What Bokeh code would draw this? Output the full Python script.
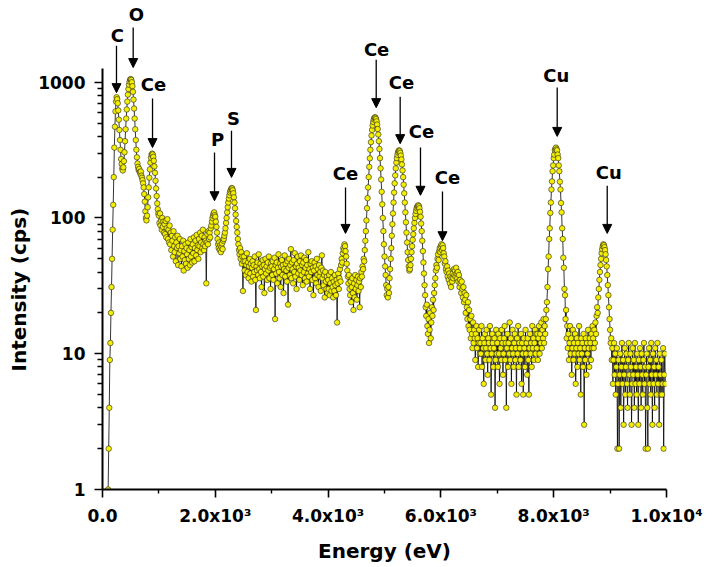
from bokeh.plotting import figure
from bokeh.models import (Range1d, FixedTicker, CustomJSTickFormatter, Arrow, NormalHead,
                          ColumnDataSource, Title)
from bokeh.core.properties import value
from bokeh.embed import file_html
from bokeh.resources import INLINE

# ---------------- data (EDS spectrum, 10 eV channels) ----------------
channel_step = 10  # eV
segment_start = [100, 1000, 2000, 3000, 4000, 5000, 6000, 7000, 8000, 9000]

counts_0k = [1, 2, 4, 9, 12, 20, 31, 50, 82, 125,
             200, 330, 470, 610, 720, 775, 750, 700, 620, 530,
             445, 375, 318, 272, 250, 232, 224, 236, 262, 305,
             368, 450, 540, 630, 720, 810, 890, 960, 1010, 1045,
             1055, 1040, 1000, 935, 850, 745, 640, 540, 450, 375,
             318, 280, 252, 238, 226, 230, 218, 212, 220, 205,
             198, 190, 180, 168, 150, 132, 112, 100, 96, 104,
             120, 142, 168, 198, 228, 256, 278, 292, 298, 294,
             282, 264, 240, 215, 188, 165, 145, 128, 116, 108]
counts_1k = [104, 92, 108, 88, 96, 82, 100, 86, 94, 78,
             90, 76, 95, 72, 84, 98, 70, 82, 66, 88,
             64, 78, 58, 74, 68, 52, 80, 62, 56, 72,
             48, 66, 60, 74, 45, 62, 55, 70, 50, 58,
             44, 62, 52, 68, 41, 57, 49, 64, 46, 60,
             54, 43, 66, 50, 58, 45, 70, 52, 61, 47,
             64, 55, 72, 48, 60, 68, 53, 75, 58, 63,
             50, 70, 62, 78, 56, 66, 74, 60, 82, 64,
             58, 72, 62, 68, 33, 66, 76, 64, 80, 70,
             78, 72, 84, 88, 94, 100, 104, 108, 110, 105]
counts_2k = [102, 94, 86, 78, 70, 64, 60, 66, 58, 63,
             56, 61, 65, 59, 68, 70, 74, 78, 84, 92,
             100, 110, 120, 130, 139, 147, 154, 159, 163, 166,
             165, 160, 152, 142, 130, 118, 106, 95, 86, 78,
             70, 64, 58, 54, 60, 50, 56, 46, 52, 29,
             48, 52, 41, 48, 38, 45, 55, 40, 47, 36,
             44, 50, 39, 46, 34, 43, 48, 37, 45, 40,
             52, 35, 21, 44, 41, 47, 38, 54, 42, 36,
             46, 40, 31, 44, 49, 37, 45, 28, 42, 50,
             39, 44, 35, 47, 41, 52, 36, 43, 30, 46]
counts_3k = [44, 38, 48, 35, 42, 51, 18, 45, 39, 47,
             33, 43, 54, 40, 36, 46, 31, 44, 49, 38,
             45, 28, 42, 53, 37, 46, 41, 34, 48, 23,
             43, 50, 38, 45, 59, 36, 47, 42, 33, 49,
             40, 55, 37, 44, 30, 46, 52, 39, 43, 35,
             48, 41, 53, 38, 45, 32, 47, 40, 51, 36,
             43, 49, 34, 45, 39, 56, 37, 42, 30, 46,
             40, 48, 35, 43, 27, 41, 47, 36, 44, 33,
             50, 38, 42, 31, 45, 37, 40, 29, 43, 53,
             36, 41, 32, 38, 26, 40, 34, 30, 37, 28]
counts_4k = [35, 30, 38, 27, 33, 40, 29, 36, 31, 26,
             34, 29, 38, 32, 27, 35, 17, 33, 39, 30,
             36, 42, 34, 45, 50, 47, 55, 60, 58, 64,
             62, 57, 52, 46, 41, 37, 33, 38, 30, 27,
             34, 24, 31, 36, 28, 21, 33, 26, 38, 30,
             35, 25, 32, 37, 29, 34, 22, 36, 31, 40,
             37, 44, 42, 50, 48, 58, 68, 80, 96, 118,
             140, 168, 200, 238, 275, 318, 362, 405, 445, 480,
             510, 532, 545, 552, 548, 536, 515, 488, 452, 412,
             368, 322, 276, 232, 192, 156, 126, 100, 80, 64]
counts_5k = [52, 44, 38, 32, 27, 30, 26, 31, 28, 36,
             42, 50, 60, 74, 90, 108, 130, 154, 180, 206,
             232, 256, 276, 292, 304, 312, 315, 311, 302, 288,
             270, 248, 224, 200, 176, 152, 130, 110, 93, 78,
             66, 56, 49, 44, 41, 42, 45, 50, 56, 62,
             69, 76, 84, 92, 100, 107, 113, 118, 121, 123,
             124, 122, 118, 111, 102, 91, 80, 68, 57, 47,
             39, 32, 27, 22, 19, 23, 16, 14, 18, 12,
             15, 20, 13, 17, 22, 19, 25, 21, 28, 32,
             36, 41, 45, 43, 50, 54, 49, 57, 60, 56]
counts_6k = [62, 64, 58, 63, 60, 55, 52, 46, 48, 42,
             40, 44, 37, 41, 35, 39, 33, 37, 31, 36,
             34, 39, 36, 42, 38, 41, 37, 43, 39, 36,
             40, 34, 38, 31, 35, 33, 28, 34, 30, 26,
             31, 24, 28, 25, 20, 27, 22, 18, 24, 16,
             21, 15, 18, 13, 19, 14, 11, 17, 12, 15,
             13, 9, 14, 16, 11, 13, 8, 12, 15, 10,
             12, 10, 16, 8, 13, 11, 6, 12, 14, 9,
             11, 15, 10, 7, 13, 12, 9, 16, 11, 5,
             10, 14, 12, 8, 11, 13, 4, 9, 15, 10]
counts_7k = [12, 8, 14, 10, 6, 13, 11, 9, 15, 12,
             7, 10, 13, 16, 9, 12, 4, 11, 14, 8,
             12, 10, 17, 9, 13, 6, 11, 15, 10, 8,
             12, 14, 9, 11, 5, 13, 10, 16, 8, 12,
             11, 9, 14, 6, 12, 10, 5, 13, 11, 8,
             15, 10, 12, 7, 13, 9, 5, 11, 14, 10,
             12, 8, 16, 11, 13, 9, 12, 15, 10, 14,
             11, 14, 9, 13, 16, 10, 14, 12, 17, 11,
             15, 13, 18, 12, 16, 14, 18, 21, 24, 31,
             42, 52, 70, 84, 109, 130, 162, 186, 221, 244]
counts_8k = [276, 293, 316, 322, 330, 321, 315, 293, 276, 244,
             221, 185, 162, 129, 110, 84, 70, 51, 43, 30,
             27, 18, 21, 13, 16, 11, 14, 9, 12, 16,
             10, 13, 7, 11, 15, 9, 12, 10, 14, 6,
             11, 13, 8, 12, 10, 16, 9, 11, 5, 13,
             10, 12, 8, 14, 3, 11, 9, 13, 7, 12,
             10, 15, 11, 8, 13, 12, 9, 14, 11, 16,
             13, 11, 15, 12, 17, 14, 19, 22, 20, 26,
             30, 35, 40, 45, 50, 55, 59, 62, 64, 63,
             61, 58, 54, 49, 44, 38, 32, 27, 22, 18]
counts_9k = [15, 12, 13, 9, 11, 6, 9, 12, 7, 10,
             5, 8, 11, 2, 6, 9, 2, 7, 10, 4,
             8, 12, 6, 9, 3, 7, 11, 5, 8, 10,
             6, 4, 9, 12, 7, 5, 10, 8, 3, 6,
             11, 7, 9, 4, 12, 6, 8, 5, 10, 7,
             3, 9, 6, 11, 8, 4, 10, 7, 5, 9,
             12, 6, 8, 2, 7, 10, 4, 2, 8, 11,
             6, 9, 5, 12, 7, 3, 10, 6, 8, 4,
             11, 7, 9, 5, 12, 6, 8, 3, 10, 7,
             5, 9, 5, 6, 11, 2, 7, 10, 6]

segments = [counts_0k, counts_1k, counts_2k, counts_3k, counts_4k,
            counts_5k, counts_6k, counts_7k, counts_8k, counts_9k]

# axis ticks and titles
x_ticks = [0, 2000, 4000, 6000, 8000, 10000]
x_minor_ticks = [1000, 3000, 5000, 7000, 9000]
y_ticks = [1, 10, 100, 1000]
y_minor_ticks = [m * d for d in (1, 10, 100) for m in range(2, 10)]
x_title = "Energy (eV)"
y_title = "Intensity (cps)"

# peak annotations
peak_labels = ["C", "O", "Ce", "P", "S", "Ce", "Ce", "Ce", "Ce", "Ce", "Cu", "Cu"]
arrow_energy = [248, 544, 887, 1986, 2287, 4309, 4853, 5278, 5638, 6028, 8062, 8949]
label_energy = [262, 603, 905, 2039, 2322, 4309, 4860, 5300, 5656, 6117, 8045, 8975]
arrow_tip = [838, 1282, 330, 134, 199, 77, 650, 353, 147, 68, 399, 77]
arrow_tail = [1858, 2525, 758, 304, 440, 168, 1466, 783, 330, 157, 914, 173]
label_y = [2203, 3140, 962, 378, 540, 213, 1740, 993, 433, 199, 1122, 216]

# ---------------- build ----------------
energy, counts = [], []
for start, seg in zip(segment_start, segments):
    for i, c in enumerate(seg):
        energy.append(start + i * channel_step)
        counts.append(c)

FONT = "DejaVu Sans"

p = figure(width=712, height=566, y_axis_type="log",
           x_range=Range1d(0, 10000), y_range=Range1d(1, 4000),
           output_backend="svg", toolbar_location=None,
           min_border_left=102, min_border_right=46,
           min_border_top=0, min_border_bottom=77)
p.outline_line_color = None
p.xgrid.visible = False
p.ygrid.visible = False
p.background_fill_color = "white"
p.border_fill_color = "white"

src = ColumnDataSource(dict(x=energy, y=counts))
p.line("x", "y", source=src, line_color="black", line_width=0.8)
p.scatter("x", "y", source=src, marker="circle", size=5.5,
          fill_color="#F4EE00", line_color="#222222", line_width=0.6)

arrows = ColumnDataSource(dict(x0=arrow_energy, y0=arrow_tail, x1=arrow_energy, y1=arrow_tip))
p.add_layout(Arrow(x_start="x0", y_start="y0", x_end="x1", y_end="y1", source=arrows,
                   line_color="black", line_width=1.3,
                   end=NormalHead(size=9, fill_color="black", line_color="black", line_width=1)))

labels = ColumnDataSource(dict(x=label_energy, y=label_y, t=peak_labels))
p.text("x", "y", text="t", source=labels, text_font=value(FONT), text_font_style="bold",
       text_font_size="18px", text_align="center", text_baseline="middle", text_color="black")

# axes
xa = p.xaxis[0]
ya = p.yaxis[0]
xa.ticker = FixedTicker(ticks=x_ticks, minor_ticks=x_minor_ticks)
xa.formatter = CustomJSTickFormatter(code="""
if (tick == 0) { return "0.0"; }
const e = Math.round(Math.floor(Math.log10(tick) + 1e-9));
const m = tick / Math.pow(10, e);
const sup = {3: "\u00b3", 4: "\u2074"};
return m.toFixed(1) + "x10" + sup[e];
""")
ya.ticker = FixedTicker(ticks=y_ticks, minor_ticks=y_minor_ticks)
ya.formatter = CustomJSTickFormatter(code="return Math.round(tick).toString();")
ya.bounds = (1, 1260)

for ax in (xa, ya):
    ax.axis_line_width = 2
    ax.axis_line_color = "black"
    ax.major_tick_line_width = 1.6
    ax.major_tick_line_color = "black"
    ax.major_tick_in = 0
    ax.major_tick_out = 8
    ax.minor_tick_line_width = 1.4
    ax.minor_tick_line_color = "black"
    ax.minor_tick_in = 0
    ax.major_label_text_font = FONT
    ax.major_label_text_font_style = "bold"
    ax.major_label_text_font_size = "17px"
    ax.major_label_text_color = "black"

xa.minor_tick_out = 4
ya.minor_tick_out = 5
xa.major_label_standoff = 8
ya.major_label_standoff = 9

xa.axis_label = x_title
xa.axis_label_text_font = FONT
xa.axis_label_text_font_style = "bold"
xa.axis_label_text_font_size = "20px"
xa.axis_label_text_color = "black"
xa.axis_label_standoff = 10

# y title as a side title so it can sit where the original one is
p.add_layout(Title(text=y_title, align="left", offset=118, vertical_align="middle",
                   standoff=8, text_font=FONT, text_font_style="bold",
                   text_font_size="20px", text_color="black"), "left")

open("out.html", "w").write(file_html(p, INLINE))
